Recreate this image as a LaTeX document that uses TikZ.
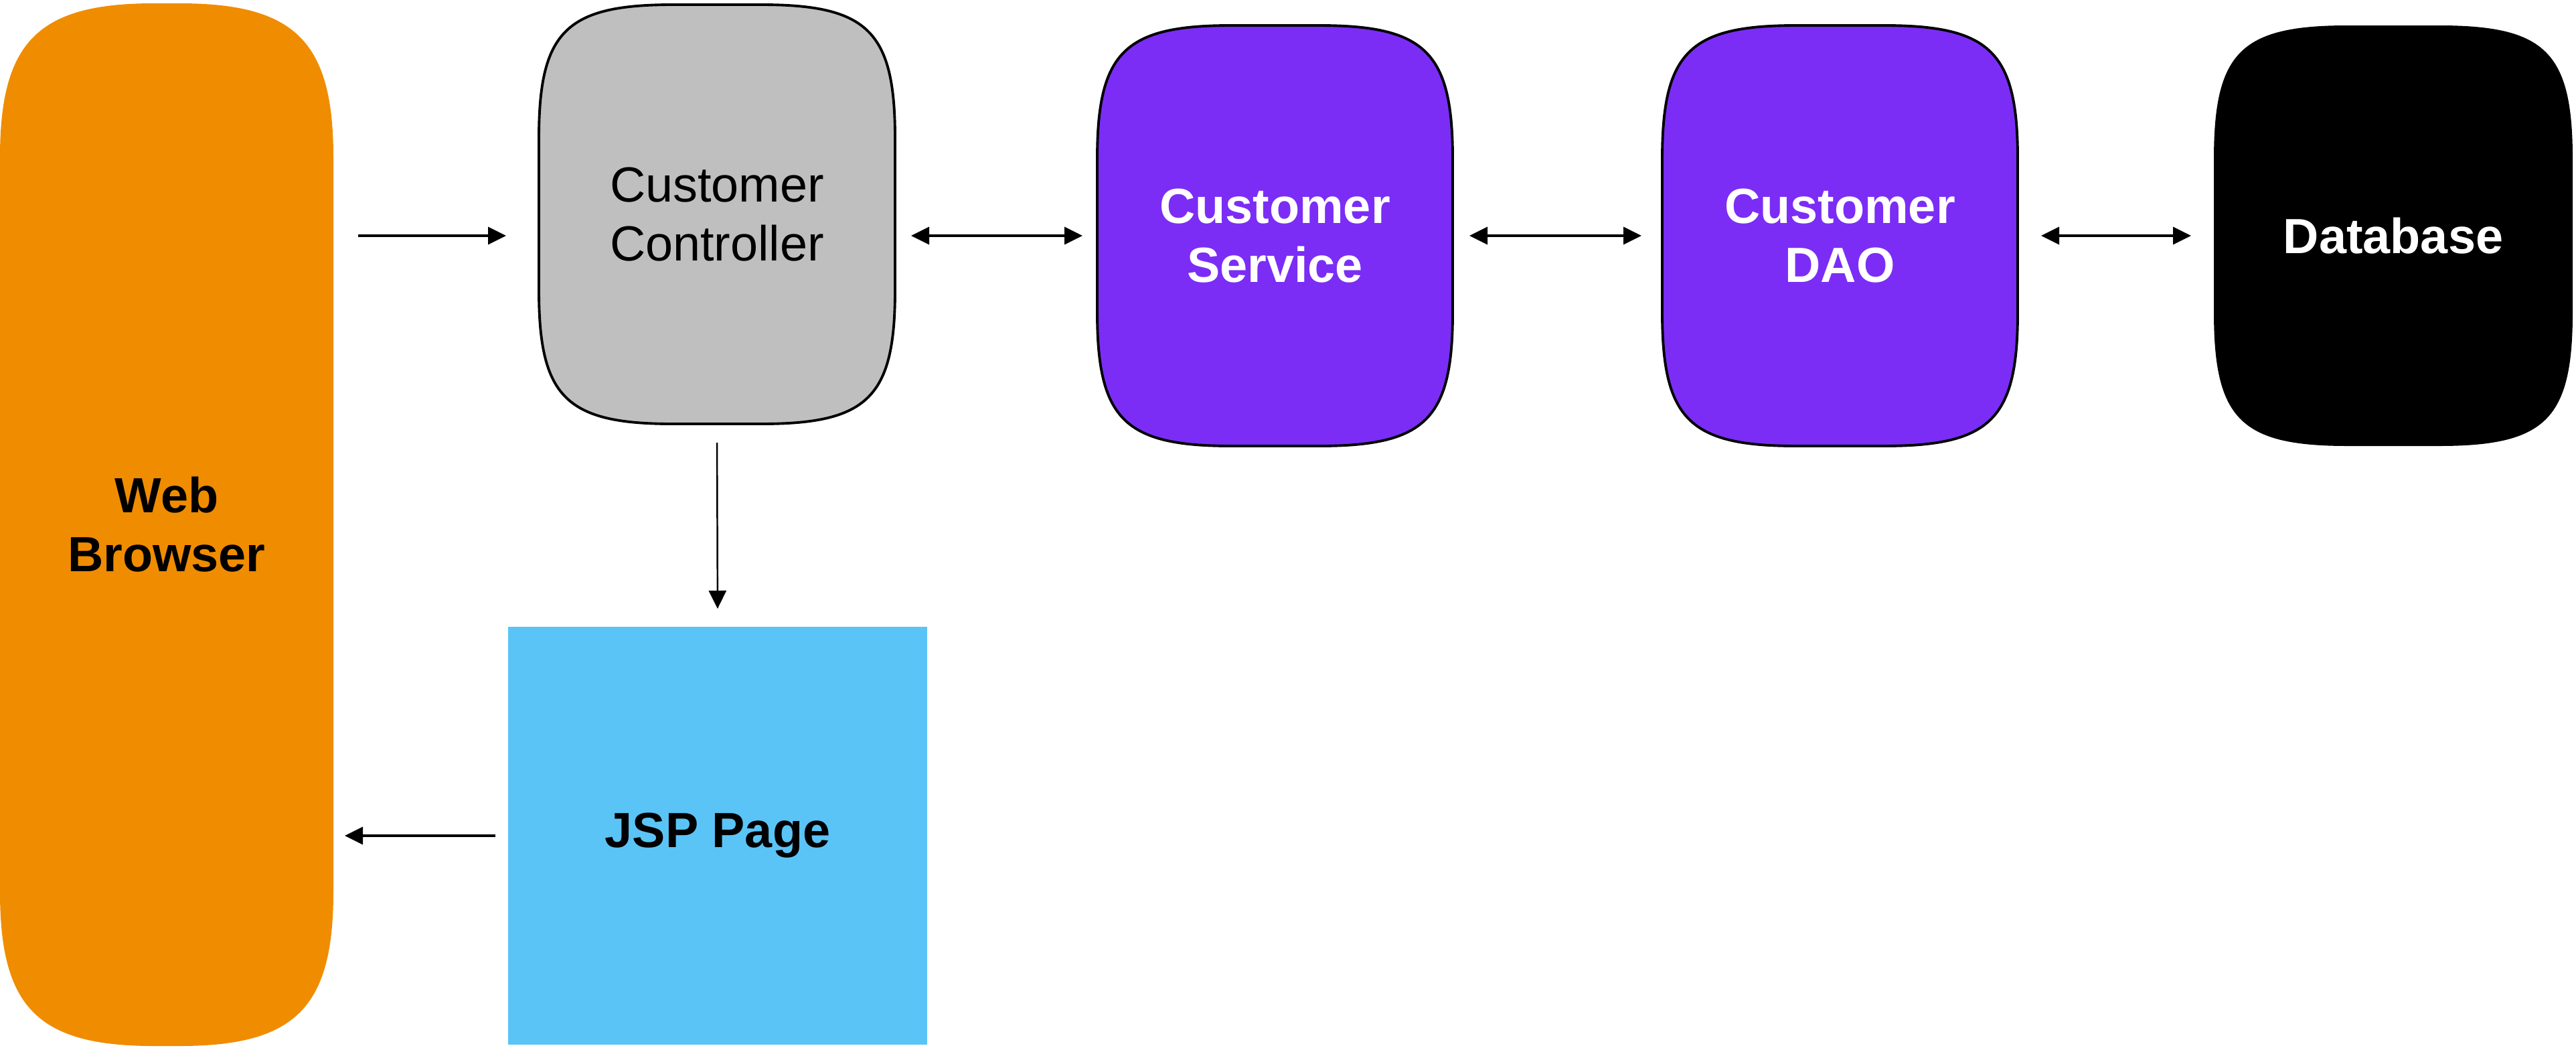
\documentclass[tikz,border=0pt]{standalone}
\usepackage{fontspec}
\setmainfont{Liberation Sans}
\usetikzlibrary{arrows.meta,calc}
\pgfdeclarelayer{bg}
\pgfsetlayers{bg,main}
\definecolor{wborange}{RGB}{240,140,0}
\definecolor{ccgray}{RGB}{191,191,191}
\definecolor{svpurple}{RGB}{123,45,246}
\definecolor{jspblue}{RGB}{91,196,246}
\tikzset{
  box/.style={inner sep=0pt,outer sep=0pt,align=center,font=\fontsize{21}{25}\selectfont},
  boldbox/.style={box,font=\fontsize{21}{25}\selectfont\bfseries},
  conn/.style={line width=0.9pt,-{Triangle[length=0.27cm,width=0.26cm]}},
  biconn/.style={line width=0.9pt,{Triangle[length=0.27cm,width=0.26cm]}-{Triangle[length=0.27cm,width=0.26cm]}},
  outline/.style={draw=black,line width=1.1pt},
}
% #1 node, #2 style, #3 corner extent, #4 control offset
\newcommand\sqshape[4]{%
  \path[#2] ([yshift=#3]#1.south west) -- ([yshift=-#3]#1.north west)
    .. controls ([yshift=-#4]#1.north west) and ([xshift=#4]#1.north west) .. ([xshift=#3]#1.north west)
    -- ([xshift=-#3]#1.north east)
    .. controls ([xshift=-#4]#1.north east) and ([yshift=-#4]#1.north east) .. ([yshift=-#3]#1.north east)
    -- ([yshift=#3]#1.south east)
    .. controls ([yshift=#4]#1.south east) and ([xshift=-#4]#1.south east) .. ([xshift=-#3]#1.south east)
    -- ([xshift=#3]#1.south west)
    .. controls ([xshift=#4]#1.south west) and ([yshift=#4]#1.south west) .. cycle;}
\begin{document}
\begin{tikzpicture}
\useasboundingbox (0,0) rectangle (38.48,-15.64);
\node[boldbox,minimum width=4.98cm,minimum height=15.57cm] (wb) at (2.49,-7.835) {Web\\Browser};
\node[box,minimum width=5.32cm,minimum height=6.26cm] (cc) at (10.71,-3.20) {Customer\\Controller};
\node[boldbox,text=white,minimum width=5.31cm,minimum height=6.28cm] (cs) at (19.045,-3.52) {Customer\\Service};
\node[boldbox,text=white,minimum width=5.31cm,minimum height=6.28cm] (dao) at (27.485,-3.52) {Customer\\DAO};
\node[boldbox,text=white,minimum width=5.36cm,minimum height=6.28cm] (db) at (35.75,-3.52) {Database};
\node[boldbox,fill=jspblue,minimum width=6.26cm,minimum height=6.24cm] (jsp) at (10.72,-12.48) {JSP Page};
\begin{pgfonlayer}{bg}
\sqshape{wb}{fill=wborange}{2.3cm}{0.57cm}
\sqshape{cc}{fill=ccgray,outline}{2.0cm}{0.4cm}
\sqshape{cs}{fill=svpurple,outline}{2.0cm}{0.4cm}
\sqshape{dao}{fill=svpurple,outline}{2.0cm}{0.4cm}
\sqshape{db}{fill=black}{2.0cm}{0.4cm}
\end{pgfonlayer}
\draw[conn,shorten <=0.37cm,shorten >=0.49cm] (wb.east |- cs.west) -- (cc.west |- cs.west);
\draw[biconn,shorten <=0.24cm,shorten >=0.22cm] (cc.east |- cs.west) -- (cs.west);
\draw[biconn,shorten <=0.25cm,shorten >=0.31cm] (cs.east) -- (dao.west);
\draw[biconn,shorten <=0.35cm,shorten >=0.34cm] (dao.east) -- (db.west);
\draw[conn,line width=0.7pt,shorten <=0.28cm,shorten >=0.27cm] (cc.south) -- (jsp.north);
\draw[conn,shorten <=0.19cm,shorten >=0.17cm] (jsp.west) -- (wb.east |- jsp.west);
\end{tikzpicture}
\end{document}
